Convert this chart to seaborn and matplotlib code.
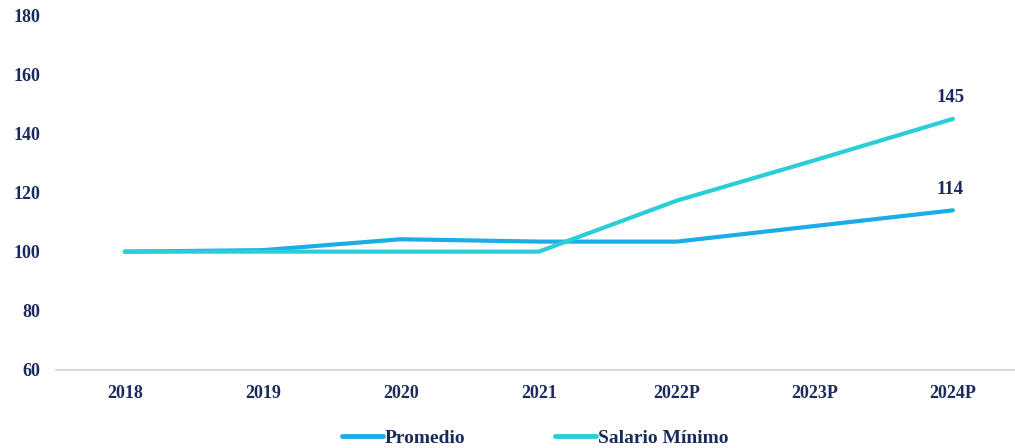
import pandas as pd
import seaborn as sns
import matplotlib.pyplot as plt

years = ["2018", "2019", "2020", "2021", "2022P", "2023P", "2024P"]
promedio = [100, 100.5, 104.2, 103.4, 103.4, 108.7, 114]
salario_minimo = [100, 100, 100, 100, 117.3, 131, 145]

series_names = ["Promedio", "Salario Mínimo"]
palette = {"Promedio": "#1DADE6", "Salario Mínimo": "#2BCDD8"}
text_color = "#1B2A5C"

df = pd.DataFrame({
    "year": years * 2,
    "value": promedio + salario_minimo,
    "serie": [series_names[0]] * len(years) + [series_names[1]] * len(years),
})

sns.set_style("white")
plt.rcParams["font.family"] = ["Liberation Serif", "DejaVu Serif"]
plt.rcParams["font.weight"] = "bold"

fig, ax = plt.subplots(figsize=(10.15, 4.48), dpi=100)
fig.subplots_adjust(left=0.055, right=1.0, top=0.965, bottom=0.175)

sns.lineplot(data=df, x="year", y="value", hue="serie", palette=palette,
             linewidth=3, sort=False, ax=ax)

ax.set_ylim(60, 180)
ax.set_yticks(range(60, 181, 20))
ax.set_xlim(-0.5, 6.45)
ax.set_xlabel("")
ax.set_ylabel("")

for s in ["top", "right", "left"]:
    ax.spines[s].set_visible(False)
ax.spines["bottom"].set_color("#D9D9D9")
ax.spines["bottom"].set_linewidth(1.5)
ax.tick_params(axis="both", length=0, labelsize=13, colors=text_color)
ax.tick_params(axis="x", pad=11)
ax.tick_params(axis="y", pad=11)
for lab in ax.get_xticklabels() + ax.get_yticklabels():
    lab.set_fontweight("bold")

ax.annotate(f"{salario_minimo[-1]:.0f}", (6, salario_minimo[-1]), xytext=(-2, 9),
            textcoords="offset points", ha="center", va="bottom",
            fontsize=13.5, fontweight="bold", color=text_color)
ax.annotate(f"{promedio[-1]:.0f}", (6, promedio[-1]), xytext=(-2, 9),
            textcoords="offset points", ha="center", va="bottom",
            fontsize=13.5, fontweight="bold", color=text_color)

leg = ax.legend(loc="upper center", bbox_to_anchor=(0.5, -0.12), ncol=2,
                frameon=False, fontsize=14, handlelength=2.1, handletextpad=0.1,
                columnspacing=4.6)
for t in leg.get_texts():
    t.set_color(text_color)
    t.set_fontweight("bold")
for l in leg.get_lines():
    l.set_linewidth(3.5)

fig.savefig("out.png", dpi=100)
